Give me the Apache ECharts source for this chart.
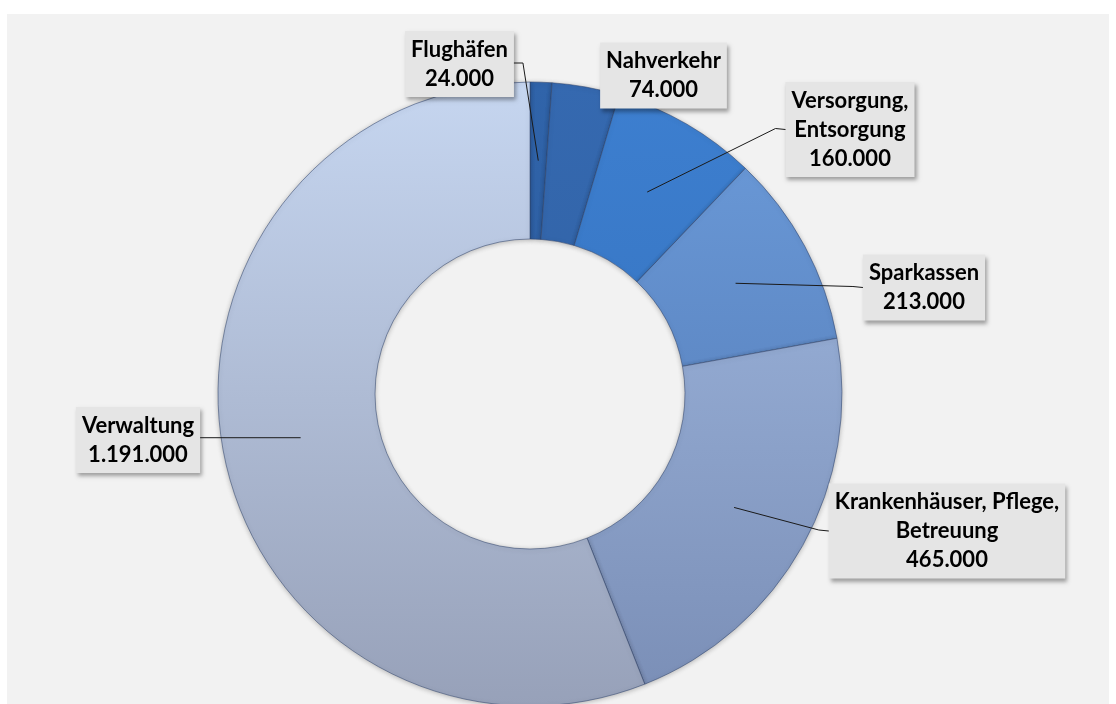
<!DOCTYPE html>
<html><head><meta charset="utf-8">
<script src="https://cdn.jsdelivr.net/npm/echarts@6/dist/echarts.min.js"></script>
<style>html,body{margin:0;padding:0;background:#fff}#c{width:1116px;height:704px}</style>
</head><body><div id="c"></div>
<script>
const categories = ['Flughäfen', 'Nahverkehr', 'Versorgung,\nEntsorgung', 'Sparkassen', 'Krankenhäuser, Pflege,\nBetreuung', 'Verwaltung'];
const values = [24000, 74000, 160000, 213000, 465000, 1191000];
const topColors = ['#3064aa', '#3569b0', '#3d7fd0', '#6c9cdb', '#a3bce4', '#c6d6f0'];
const bottomColors = ['#2a5796', '#2d5c9c', '#326db6', '#4f74ae', '#7a8eb6', '#97a1b9'];
// label box centres (layout only)
const labelPos = [[459.5, 64], [663.5, 75.5], [850, 129.5], [924, 287.5], [947, 531], [138, 440]];
const showLine = [true, false, true, true, true, true];

function fmt(v){ return String(v).replace(/\B(?=(\d{3})+(?!\d))/g, '.'); }

const chart = echarts.init(document.getElementById('c'));
const bgRect = { id: 'bg', type: 'rect', z: -10, silent: true, shape: { x: 7, y: 14, width: 1102, height: 700 }, style: { fill: '#f2f2f2' } };
chart.setOption({
  animation: false,
  graphic: [bgRect],
  series: [{
    type: 'pie',
    center: [530, 394],
    radius: [155, 312],
    startAngle: 90,
    clockwise: true,
    avoidLabelOverlap: false,
    itemStyle: { borderColor: 'rgba(50,70,110,0.55)', borderWidth: 1, shadowBlur: 5, shadowColor: 'rgba(0,0,0,0.25)', shadowOffsetY: 1 },
    label: {
      show: true, position: 'outside',
      formatter: p => p.name + '\n' + fmt(p.value),
      fontFamily: 'Lato', fontWeight: 'bold', fontSize: 22, lineHeight: 29, color: '#000',
      backgroundColor: '#e5e5e5', padding: [4, 6],
      shadowColor: 'rgba(0,0,0,0.35)', shadowBlur: 4, shadowOffsetX: 2, shadowOffsetY: 3
    },
    labelLine: { show: false },
    labelLayout: function (params) {
      const [x, y] = labelPos[params.dataIndex];
      return { x: x, y: y, align: 'center', verticalAlign: 'middle' };
    },
    data: categories.map((n, i) => ({
      name: n, value: values[i],
      itemStyle: { color: new echarts.graphic.LinearGradient(0, 82, 0, 706, [
        { offset: 0, color: topColors[i] }, { offset: 1, color: bottomColors[i] }], true) }
    }))
  }]
});

// leader lines: from the middle of each ring sector (library layout) to its label box
const data = chart.getModel().getSeriesByIndex(0).getData();
const lines = [];
values.forEach((v, i) => {
  if (!showLine[i]) return;
  const L = data.getItemLayout(i);
  const a = (L.startAngle + L.endAngle) / 2, rm = (L.r + L.r0) / 2;
  const sx = L.cx + rm * Math.cos(a), sy = L.cy + rm * Math.sin(a);
  const el = data.getItemGraphicEl(i).getTextContent();
  const br = el.getBoundingRect().clone();
  br.applyTransform(el.getComputedTransform());
  const cyb = br.y + br.height / 2;
  let pts;
  if (i === 0) {
    const ex = br.x + br.width, ey = cyb - 1;
    pts = [[sx, sy], [ex + 9, ey], [ex, ey]];
  } else if (sx > L.cx) {
    const ex = br.x, ey = cyb;
    pts = [[sx, sy], [ex - 10, ey - 1], [ex, ey]];
  } else {
    const ex = br.x + br.width;
    pts = [[sx, sy], [ex, sy]];
  }
  lines.push({ type: 'polyline', z: 100, silent: true, shape: { points: pts }, style: { stroke: '#1a1a1a', lineWidth: 1, fill: null } });
});
chart.setOption({ graphic: [bgRect].concat(lines) }, { replaceMerge: ['graphic'] });
</script></body></html>
